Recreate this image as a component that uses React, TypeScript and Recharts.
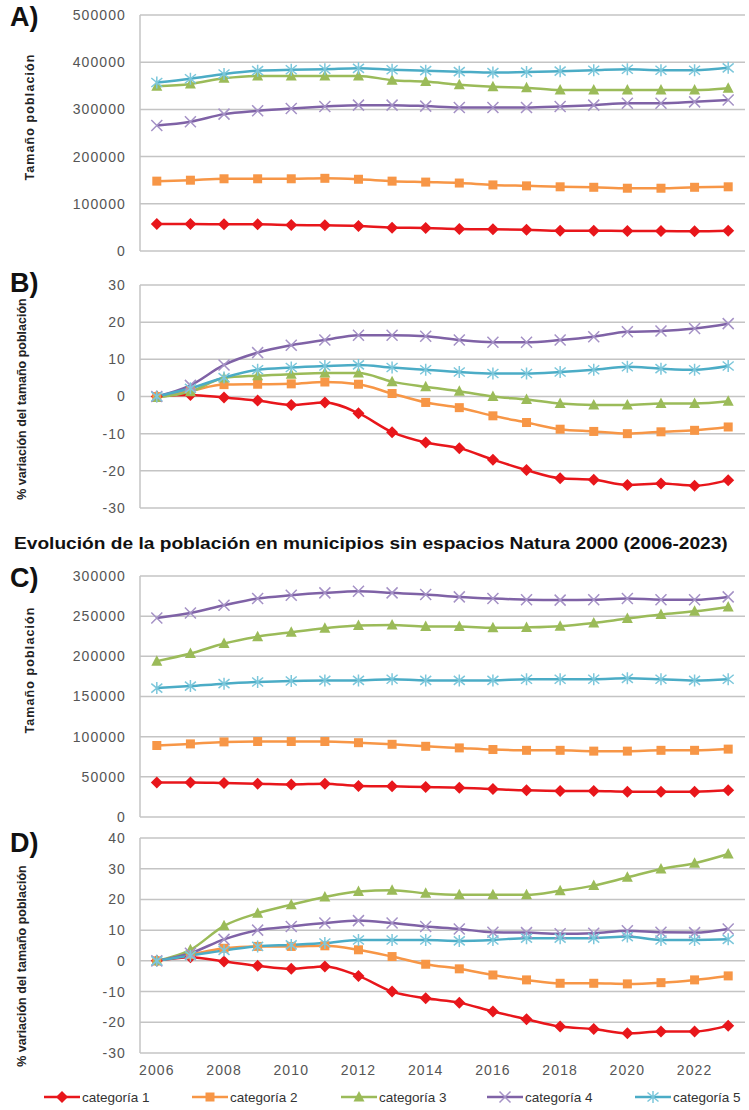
import { LineChart, Line, XAxis, YAxis, CartesianGrid } from 'recharts';

const YEARS = [2006, 2007, 2008, 2009, 2010, 2011, 2012, 2013, 2014, 2015, 2016, 2017, 2018, 2019, 2020, 2021, 2022, 2023];
const YEAR_TICKS = [2006, 2008, 2010, 2012, 2014, 2016, 2018, 2020, 2022];

// A) tamaño población (municipios con Natura 2000)
const A_CAT1 = [57000, 57000, 56500, 56500, 55000, 54500, 53000, 49500, 48700, 46600, 46000, 45000, 43000, 43000, 42400, 42400, 41700, 43000];
const A_CAT2 = [148000, 150000, 153000, 153000, 153000, 154000, 152000, 148000, 146000, 144000, 140000, 138000, 136000, 135000, 133000, 133000, 135000, 136000];
const A_CAT3 = [349000, 354000, 366000, 371000, 371000, 371000, 371000, 362000, 359000, 352000, 348000, 346000, 341000, 341000, 341000, 341000, 341000, 345000];
const A_CAT4 = [266000, 274000, 290000, 297000, 302000, 306000, 309000, 309000, 307000, 304000, 304000, 304000, 306000, 309000, 313000, 313000, 316000, 320000];
const A_CAT5 = [357000, 365000, 375000, 382000, 384000, 385000, 387000, 384000, 382000, 380000, 378000, 379000, 381000, 383000, 385000, 383000, 383000, 388000];

// B) % variación
const B_CAT1 = [0, 0.4, -0.3, -1.1, -2.3, -1.6, -4.5, -9.6, -12.4, -13.9, -17, -19.8, -22, -22.4, -23.8, -23.4, -24, -22.5];
const B_CAT2 = [0, 1.5, 3.2, 3.3, 3.4, 3.9, 3.3, 0.8, -1.6, -3.0, -5.2, -7.0, -8.8, -9.4, -10.0, -9.5, -9.1, -8.2];
const B_CAT3 = [-0.3, 1.3, 5.0, 5.6, 6.0, 6.3, 6.3, 4.0, 2.6, 1.4, 0, -0.8, -1.9, -2.3, -2.3, -1.9, -1.9, -1.3];
const B_CAT4 = [0, 3.0, 8.5, 11.8, 13.8, 15.2, 16.5, 16.5, 16.2, 15.2, 14.6, 14.6, 15.2, 16.1, 17.4, 17.6, 18.3, 19.6];
const B_CAT5 = [0, 2.2, 5.1, 7.2, 7.8, 8.2, 8.5, 7.8, 7.2, 6.6, 6.2, 6.2, 6.6, 7.2, 8.0, 7.5, 7.2, 8.2];

// C) tamaño población (municipios sin Natura 2000)
const C_CAT1 = [43000, 43000, 42300, 41500, 40600, 41500, 38600, 38200, 37300, 36500, 34800, 33200, 32400, 32400, 31500, 31500, 31500, 33200];
const C_CAT2 = [89000, 91000, 93500, 94000, 94000, 94000, 92500, 90500, 88000, 86000, 84000, 83000, 83000, 82000, 82000, 83000, 83000, 84500];
const C_CAT3 = [194000, 203500, 216000, 224500, 230000, 235000, 238500, 239000, 237000, 237000, 235500, 236000, 237500, 241500, 247000, 252000, 256000, 261500];
const C_CAT4 = [247800, 254000, 263500, 272000, 276000, 279000, 281000, 279000, 277000, 274000, 272000, 270500, 270000, 270500, 272000, 270500, 270500, 274000];
const C_CAT5 = [160500, 163000, 166000, 168000, 169300, 170000, 170000, 171500, 170000, 170000, 170000, 171500, 171500, 171500, 172600, 171500, 170000, 171500];

// D) % variación
const D_CAT1 = [0, 1.2, -0.2, -1.6, -2.6, -1.8, -4.9, -10, -12.2, -13.6, -16.5, -19, -21.4, -22.2, -23.6, -23, -23, -21.1];
const D_CAT2 = [0, 2.0, 4.1, 4.7, 4.7, 4.9, 3.6, 1.4, -1.1, -2.6, -4.6, -6.2, -7.3, -7.3, -7.5, -7.1, -6.2, -4.9];
const D_CAT3 = [0, 3.6, 11.4, 15.5, 18.3, 20.8, 22.6, 23, 22, 21.5, 21.5, 21.5, 22.8, 24.5, 27.2, 29.9, 31.8, 34.8];
const D_CAT4 = [0, 2.5, 7, 10, 11.2, 12.3, 13.1, 12.3, 11.2, 10.4, 9.3, 9.2, 8.8, 9, 9.8, 9.3, 9.2, 10.4];
const D_CAT5 = [0, 1.7, 3.4, 4.7, 5.2, 5.8, 6.8, 6.8, 6.8, 6.5, 6.8, 7.4, 7.4, 7.4, 7.9, 6.8, 6.8, 7];

const SERIES_NAMES = ['categoría 1', 'categoría 2', 'categoría 3', 'categoría 4', 'categoría 5'];
const COLORS = ['#E8161B', '#F79646', '#9BBB59', '#7F62A6', '#4BACC6'];
const MARKERS = ['diamond', 'square', 'triangle', 'x', 'star'];

const buildData = (s: number[][]) =>
  YEARS.map((year, i) => ({ year, c1: s[0][i], c2: s[1][i], c3: s[2][i], c4: s[3][i], c5: s[4][i] }));

const markerShape = (kind: string, color: string, cx: number, cy: number, key: any) => {
  if (kind === 'diamond')
    return <path key={key} d={`M${cx},${cy - 6}L${cx + 6},${cy}L${cx},${cy + 6}L${cx - 6},${cy}Z`} fill={color} />;
  if (kind === 'square')
    return <rect key={key} x={cx - 4.5} y={cy - 4.5} width={9} height={9} fill={color} />;
  if (kind === 'triangle')
    return <path key={key} d={`M${cx},${cy - 6}L${cx + 5.5},${cy + 4.5}L${cx - 5.5},${cy + 4.5}Z`} fill={color} />;
  if (kind === 'x')
    return (
      <path key={key} d={`M${cx - 5.5},${cy - 5.5}L${cx + 5.5},${cy + 5.5}M${cx - 5.5},${cy + 5.5}L${cx + 5.5},${cy - 5.5}`}
        stroke="#A592C6" strokeWidth={1.5} fill="none" />
    );
  return (
    <path key={key}
      d={`M${cx - 5.5},${cy - 4.5}L${cx + 5.5},${cy + 4.5}M${cx - 5.5},${cy + 4.5}L${cx + 5.5},${cy - 4.5}M${cx},${cy - 6}L${cx},${cy + 6}`}
      stroke="#7CC7DB" strokeWidth={1.5} fill="none" />
  );
};

const tickStyle = { fontSize: 14, fontFamily: 'Liberation Sans, Arial, sans-serif', fill: '#555', letterSpacing: 1.1 };

interface PanelProps {
  series: number[][];
  domain: [number, number];
  ticks: number[];
  plotTop: number;
  plotBottom: number;
  showX?: boolean;
}

function Panel({ series, domain, ticks, plotTop, plotBottom, showX }: PanelProps) {
  const data = buildData(series);
  const top = plotTop - 10;
  const bottomSpace = showX ? 36 : 10;
  const height = plotBottom - plotTop + 10 + bottomSpace;
  return (
    <div style={{ position: 'absolute', left: 0, top }}>
      <LineChart width={749} height={height} data={data}
        margin={{ top: 10, right: 4, bottom: showX ? 0 : bottomSpace, left: 70 }}>
        <CartesianGrid vertical={false} stroke="#C4C4C4" strokeWidth={1.5} />
        <XAxis
          dataKey="year"
          type="number"
          domain={[2005.5, 2023.5]}
          ticks={YEAR_TICKS}
          hide={!showX}
          height={bottomSpace}
          tickSize={0}
          tickMargin={12}
          axisLine={false}
          tick={tickStyle}
        />
        <YAxis
          domain={domain}
          ticks={ticks}
          width={70}
          tickSize={0}
          tickMargin={14}
          interval={0}
          axisLine={{ stroke: '#C4C4C4', strokeWidth: 1.5 }}
          tick={tickStyle}
          allowDataOverflow
        />
        {['c1', 'c2', 'c3', 'c4', 'c5'].map((k, i) => (
          <Line
            key={k}
            dataKey={k}
            name={SERIES_NAMES[i]}
            type="monotone"
            stroke={COLORS[i]}
            strokeWidth={2.5}
            isAnimationActive={false}
            dot={(p: any) => markerShape(MARKERS[i], COLORS[i], p.cx, p.cy, `${k}-${p.index}`)}
            activeDot={false}
          />
        ))}
      </LineChart>
    </div>
  );
}

const letterStyle: any = {
  position: 'absolute', left: 10, fontFamily: 'Liberation Sans, Arial, sans-serif',
  fontWeight: 'bold', fontSize: 27, color: '#111'
};

const yLabelStyle = (x: number, cy: number, spacing: number): any => ({
  position: 'absolute', left: x, top: cy, transform: 'translate(-50%, -50%) rotate(-90deg)',
  whiteSpace: 'nowrap', fontFamily: 'Liberation Sans, Arial, sans-serif', fontWeight: 'bold',
  fontSize: 12.5, color: '#222', letterSpacing: spacing
});

export default function App() {
  return (
    <div style={{ position: 'absolute', left: 0, top: 0, width: 749, height: 1110, background: '#fff', overflow: 'hidden' }}>
      <Panel series={[A_CAT1, A_CAT2, A_CAT3, A_CAT4, A_CAT5]} domain={[0, 500000]}
        ticks={[0, 100000, 200000, 300000, 400000, 500000]} plotTop={15} plotBottom={251} />
      <Panel series={[B_CAT1, B_CAT2, B_CAT3, B_CAT4, B_CAT5]} domain={[-30, 30]}
        ticks={[-30, -20, -10, 0, 10, 20, 30]} plotTop={285} plotBottom={508} />
      <Panel series={[C_CAT1, C_CAT2, C_CAT3, C_CAT4, C_CAT5]} domain={[0, 300000]}
        ticks={[0, 50000, 100000, 150000, 200000, 250000, 300000]} plotTop={576} plotBottom={817} />
      <Panel series={[D_CAT1, D_CAT2, D_CAT3, D_CAT4, D_CAT5]} domain={[-30, 40]}
        ticks={[-30, -20, -10, 0, 10, 20, 30, 40]} plotTop={838} plotBottom={1053} showX />

      <div style={{ ...letterStyle, top: 2 }}>A)</div>
      <div style={{ ...letterStyle, top: 268 }}>B)</div>
      <div style={{ ...letterStyle, top: 563 }}>C)</div>
      <div style={{ ...letterStyle, top: 828 }}>D)</div>

      <div style={yLabelStyle(30, 117, 1.1)}>Tamaño población</div>
      <div style={yLabelStyle(22, 399, 0)}>% variación del tamaño población</div>
      <div style={yLabelStyle(30, 670, 1.1)}>Tamaño población</div>
      <div style={yLabelStyle(22, 966, 0)}>% variación del tamaño población</div>

      <div style={{
        position: 'absolute', left: 14, top: 534, whiteSpace: 'nowrap',
        fontFamily: 'Liberation Sans, Arial, sans-serif', fontWeight: 'bold', fontSize: 16.5, color: '#111',
        transform: 'scaleX(1.16)', transformOrigin: 'left center'
      }}>
        Evolución de la población  en municipios sin espacios Natura 2000 (2006-2023)
      </div>

      {SERIES_NAMES.map((n, i) => {
        const left = [43, 191, 340, 486, 634][i];
        return (
          <div key={n} style={{ position: 'absolute', left, top: 1089, display: 'flex', alignItems: 'center' }}>
            <svg width={38} height={16}>
              <line x1={1} y1={8} x2={37} y2={8} stroke={COLORS[i]} strokeWidth={2.5} />
              {markerShape(MARKERS[i], COLORS[i], 19, 8, 'm')}
            </svg>
            <span style={{ fontFamily: 'Liberation Sans, Arial, sans-serif', fontSize: 13.5, color: '#333', marginLeft: 1 }}>{n}</span>
          </div>
        );
      })}
    </div>
  );
}
